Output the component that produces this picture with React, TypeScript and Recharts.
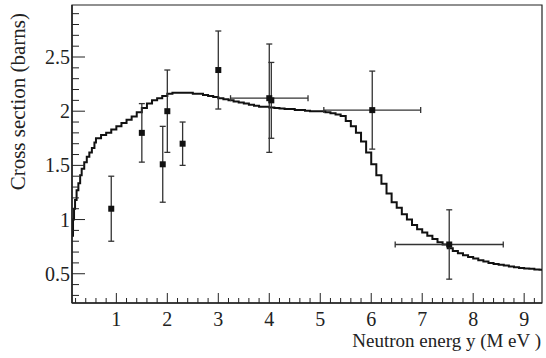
import {
  ComposedChart,
  Line,
  Scatter,
  ErrorBar,
  XAxis,
  YAxis,
  ReferenceArea,
} from "recharts";

// model curve (histogram)
const curveX = [
  0.13, 0.15, 0.17, 0.19, 0.22, 0.255, 0.29, 0.32, 0.37, 0.42, 0.47, 0.52, 0.57,
  0.6, 0.7, 0.8, 0.9, 1.0, 1.1, 1.2, 1.3, 1.4, 1.5, 1.6, 1.7, 1.8, 1.9, 2.0,
  2.1, 2.2, 2.3, 2.4, 2.5, 2.6, 2.7, 2.8, 2.9, 3.0, 3.1, 3.2, 3.3, 3.4, 3.5,
  3.6, 3.7, 3.8, 3.9, 4.0, 4.1, 4.2, 4.3, 4.4, 4.5, 4.6, 4.7, 4.8, 4.9, 5.0,
  5.1, 5.2, 5.3, 5.4, 5.5, 5.6, 5.7, 5.8, 5.9, 6.0, 6.1, 6.2, 6.3, 6.4, 6.5,
  6.6, 6.7, 6.8, 6.9, 7.0, 7.1, 7.2, 7.3, 7.4, 7.5, 7.6, 7.7, 7.8, 7.9, 8.0,
  8.1, 8.2, 8.3, 8.4, 8.5, 8.6, 8.7, 8.8, 8.9, 9.0, 9.1, 9.2, 9.3, 9.35,
];
const curveY = [
  0.85, 1.0, 1.1, 1.18, 1.27, 1.335, 1.41, 1.47, 1.53, 1.58, 1.62, 1.66, 1.71,
  1.75, 1.78, 1.8, 1.83, 1.86, 1.89, 1.92, 1.95, 1.99, 2.03, 2.07, 2.1, 2.12,
  2.14, 2.16, 2.17, 2.17, 2.17, 2.17, 2.16, 2.16, 2.15, 2.14, 2.13, 2.12, 2.11,
  2.1, 2.09, 2.08, 2.07, 2.06, 2.05, 2.04, 2.04, 2.035, 2.03, 2.025, 2.02, 2.02,
  2.01, 2.01, 2.005, 2.0, 2.0, 2.0, 1.99, 1.98, 1.97, 1.955, 1.91, 1.86, 1.8,
  1.72, 1.62, 1.51, 1.41, 1.33, 1.24, 1.16, 1.11, 1.05, 1.0, 0.95, 0.91, 0.88,
  0.85, 0.82, 0.79, 0.77, 0.735, 0.71, 0.69, 0.67, 0.655, 0.64, 0.625, 0.613,
  0.6, 0.59, 0.583, 0.575, 0.567, 0.56, 0.554, 0.549, 0.545, 0.54, 0.537, 0.535,
];

// measurements
const pointX = [0.9, 1.5, 1.91, 2.0, 2.3, 3.0, 4.0, 4.04, 6.02, 7.53];
const pointY = [1.1, 1.8, 1.51, 2.0, 1.7, 2.38, 2.12, 2.1, 2.01, 0.77];
const pointEx = [0, 0, 0, 0, 0, 0, 0.76, 0, 0.95, 1.06];
const pointEy = [0.3, 0.27, 0.35, 0.38, 0.2, 0.36, 0.5, 0.35, 0.36, 0.32];

const xMajor = [1, 2, 3, 4, 5, 6, 7, 8, 9];
const yMajor = [0.5, 1, 1.5, 2, 2.5];

const xDomain = [0.13, 9.35];
const yDomain = [0.23, 2.98];

const xTicks: number[] = [];
for (let i = 1; i <= 46; i++) xTicks.push(Math.round(i * 2) / 10);
const yTicks: number[] = [];
for (let i = 3; i <= 29; i++) yTicks.push(i / 10);

const curve = curveX.map((x, i) => ({ x, y: curveY[i] }));
const points = pointX.map((x, i) => ({
  x,
  y: pointY[i],
  ex: pointEx[i],
  ey: pointEy[i],
}));

const font = "Liberation Serif";
const ink = "#222";
const textStyle = { fontFamily: font };

const isMajor = (v: number, list: number[]) =>
  list.some((m) => Math.abs(m - v) < 1e-6);

const XTick = (props: any) => {
  const { x, y, payload } = props;
  const major = isMajor(payload.value, xMajor);
  return (
    <g>
      <line x1={x} y1={y} x2={x} y2={y - (major ? 10 : 5)} stroke={ink} />
      {major && (
        <text x={x} y={y + 23} textAnchor="middle" fontSize={20} style={textStyle} fill={ink}>
          {payload.value}
        </text>
      )}
    </g>
  );
};

const YTick = (props: any) => {
  const { x, y, payload } = props;
  const major = isMajor(payload.value, yMajor);
  return (
    <g>
      <line x1={x} y1={y} x2={x + (major ? 13 : 7)} y2={y} stroke={ink} />
      {major && (
        <text x={x - 2} y={y + 7} textAnchor="end" fontSize={20} style={textStyle} fill={ink}>
          {payload.value}
        </text>
      )}
    </g>
  );
};

const Marker = (props: any) => (
  <rect x={props.cx - 3} y={props.cy - 3} width={6} height={6} fill="#111" />
);

export default function App() {
  return (
    <div style={{ position: "absolute", left: 0, top: 0, width: 546, height: 358, background: "#fff", fontFamily: font }}>
      <ComposedChart
        width={546}
        height={358}
        margin={{ top: 5, right: 4, bottom: 0, left: 0 }}
      >
        <XAxis
          type="number"
          dataKey="x"
          domain={xDomain}
          allowDataOverflow
          ticks={xTicks}
          interval={0}
          tick={<XTick />}
          tickLine={false}
          tickSize={0}
          tickMargin={0}
          height={55}
          axisLine={{ stroke: ink, strokeWidth: 1.5 }}
        />
        <YAxis
          type="number"
          dataKey="y"
          domain={yDomain}
          allowDataOverflow
          ticks={yTicks}
          interval={0}
          tick={<YTick />}
          tickLine={false}
          tickSize={0}
          tickMargin={0}
          width={72}
          axisLine={{ stroke: ink, strokeWidth: 1.5 }}
        />
        <ReferenceArea
          x1={xDomain[0]}
          x2={xDomain[1]}
          y1={yDomain[0]}
          y2={yDomain[1]}
          fill="none"
          stroke={ink}
          strokeWidth={1.2}
        />
        <Line
          data={curve}
          dataKey="y"
          type="stepAfter"
          stroke="#111"
          strokeWidth={2}
          dot={false}
          isAnimationActive={false}
        />
        <Scatter data={points} dataKey="y" shape={<Marker />} isAnimationActive={false}>
          <ErrorBar dataKey="ex" direction="x" width={3} stroke="#333" strokeWidth={1.3} />
          <ErrorBar dataKey="ey" direction="y" width={3} stroke="#333" strokeWidth={1.3} />
        </Scatter>
      </ComposedChart>
      <svg width={546} height={358} style={{ position: "absolute", left: 0, top: 0, pointerEvents: "none" }}>
        <text
          transform="translate(25,13) rotate(-90)"
          textAnchor="end"
          fontSize={21}
          style={textStyle}
          fill={ink}
        >
          Cross section (barns)
        </text>
        <text x={541} y={347} textAnchor="end" fontSize={19} style={textStyle} fill={ink}>
          Neutron energ y (M eV )
        </text>
      </svg>
    </div>
  );
}
